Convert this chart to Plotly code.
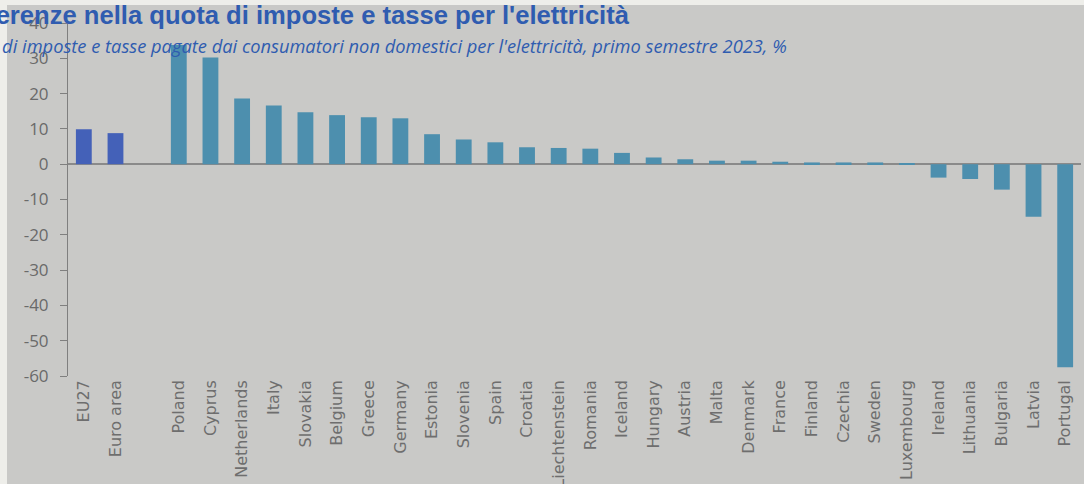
import plotly.graph_objects as go

# Tax share differences, non-household electricity consumers, H1 2023 (%)
aggregates = ["EU27", "Euro area"]
aggregate_values = [9.9, 8.8]

countries = ["Poland", "Cyprus", "Netherlands", "Italy", "Slovakia", "Belgium",
             "Greece", "Germany", "Estonia", "Slovenia", "Spain", "Croatia",
             "Liechtenstein", "Romania", "Iceland", "Hungary", "Austria", "Malta",
             "Denmark", "France", "Finland", "Czechia", "Sweden", "Luxembourg",
             "Ireland", "Lithuania", "Bulgaria", "Latvia", "Portugal"]
country_values = [33.8, 30.2, 18.6, 16.6, 14.7, 13.9,
                  13.3, 13.0, 8.5, 7.0, 6.2, 4.8,
                  4.6, 4.4, 3.2, 1.9, 1.4, 1.0,
                  1.0, 0.7, 0.5, 0.5, 0.5, 0.2,
                  -3.8, -4.2, -7.2, -14.9, -57.5]

spacer = " "
y_ticks = [40, 30, 20, 10, 0, -10, -20, -30, -40, -50, -60]
y_tick_labels = ["40", "30", "20", "10", "0", "-10", "-20", "-30", "-40", "-50", "-60"]

title_text = "Differenze nella quota di imposte e tasse per l'elettricità"
subtitle_text = ("Quota di imposte e tasse pagate dai consumatori non domestici "
                 "per l'elettricità, primo semestre 2023, %")

category_order = aggregates + [spacer] + countries

fig = go.Figure()
fig.add_trace(go.Bar(x=aggregates, y=aggregate_values,
                     marker=dict(color="#4461b8", line=dict(width=0)),
                     width=0.5, showlegend=False))
fig.add_trace(go.Bar(x=countries, y=country_values,
                     marker=dict(color="#4d8fae", line=dict(width=0)),
                     width=0.5, showlegend=False))

# grey panel behind the chart, leaving a thin light border at left and top
fig.add_shape(type="rect", xref="paper", yref="paper",
              x0=-0.0602, x1=1.02, y0=-0.35, y1=1.051,
              fillcolor="#c9c9c7", line=dict(width=0), layer="below")

fig.add_annotation(text="<b>" + title_text + "</b>", xref="paper", yref="paper",
                   x=0.5568, y=1.0227, xanchor="right", yanchor="middle",
                   showarrow=False,
                   font=dict(family="Liberation Sans, Arial", size=25.6, color="#2f5cb0"))
fig.add_annotation(text="<i>" + subtitle_text + "</i>", xref="paper", yref="paper",
                   x=0.7117, y=0.937, xanchor="right", yanchor="middle",
                   showarrow=False,
                   font=dict(family="Open Sans", size=18.3, color="#2f5cb0"))

fig.update_layout(
    width=1084, height=484,
    margin=dict(l=68, r=3, t=23, b=108),
    paper_bgcolor="#eeeeea",
    plot_bgcolor="#c9c9c7",
    bargap=0.5,
    xaxis=dict(type="category", categoryorder="array", categoryarray=category_order,
               tickangle=-90, showgrid=False, showline=False, ticks="",
               zeroline=False, automargin=False,
               tickfont=dict(family="DejaVu Sans", size=16, color="#6e6e6e")),
    yaxis=dict(range=[-60, 40], tickvals=y_ticks, ticktext=y_tick_labels,
               showgrid=False, automargin=False,
               showline=True, linecolor="#7f7f7f", linewidth=1,
               ticks="outside", ticklen=7, tickcolor="#7f7f7f",
               ticklabelstandoff=8,
               zeroline=True, zerolinecolor="#8a8a8a", zerolinewidth=1.5,
               tickfont=dict(family="Open Sans", size=17, color="#6a6a6a")),
)

fig.write_html("out.html")
